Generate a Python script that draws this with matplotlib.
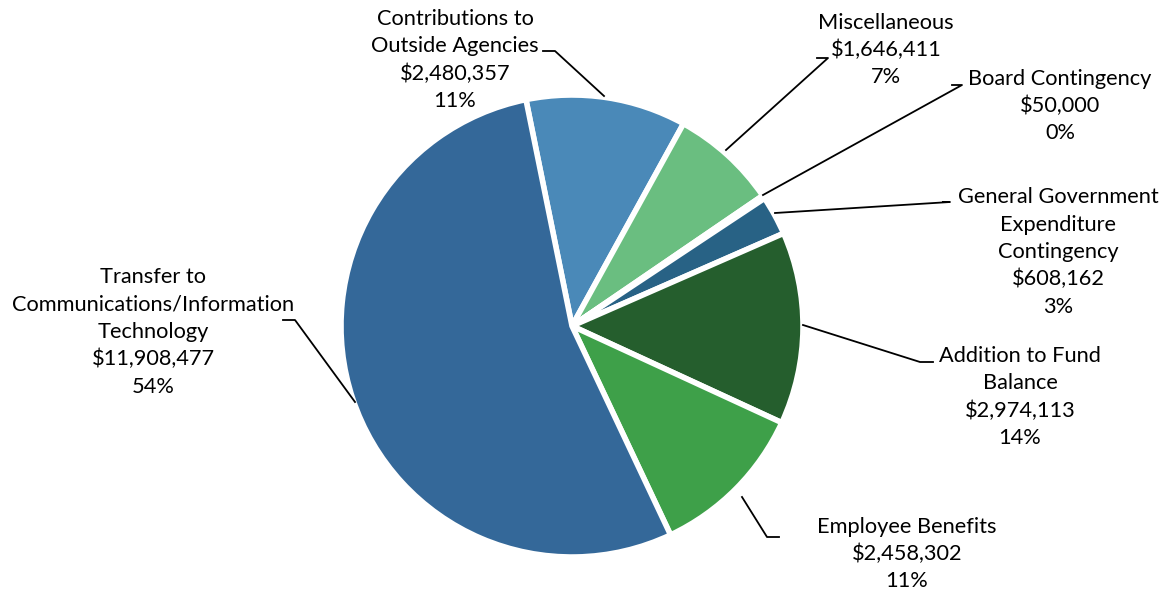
import matplotlib
matplotlib.use('Agg')
from matplotlib import pyplot as plt

# datos (sentido horario desde arriba)
labels = ['Contributions to\nOutside Agencies', 'Miscellaneous', 'Board Contingency',
          'General Government\nExpenditure\nContingency', 'Addition to Fund\nBalance',
          'Employee Benefits', 'Transfer to\nCommunications/Information\nTechnology']
values = [2480357, 1646411, 50000, 608162, 2974113, 2458302, 11908477]
pcts = ['11%', '7%', '0%', '3%', '14%', '11%', '54%']
colors = ['#4A89B8', '#6ABE80', '#1F4F6F', '#286285', '#255E2D', '#3EA049', '#346899']

# posiciones de etiquetas (pixeles), puntos de la linea guia
text_pos = [(455, 60), (886, 50), (1060, 106), (1058, 252), (1020, 397), (907, 554), (153, 332)]
leaders = [
    [(543, 51), (555, 51), (604, 96)],
    [(817, 58), (828, 58), (726, 150)],
    [(952, 85), (962, 85), (763, 195)],
    [(943, 202), (950, 202), (775, 213)],
    [(933, 362), (920, 362), (803, 325)],
    [(779, 537), (767, 537), (742, 497)],
    [(283, 320), (295, 320), (355, 402)],
]

W, H = 1169, 595
fig = plt.figure(figsize=(W / 100, H / 100), dpi=100)
ax = fig.add_axes([0, 0, 1, 1])

ax.pie(values, colors=colors, startangle=101.5, counterclock=False,
       center=(572, H - 326), radius=231,
       wedgeprops=dict(edgecolor='white', linewidth=4))

ax.set_xlim(0, W)
ax.set_ylim(0, H)
ax.set_aspect('equal')
ax.axis('off')

for lab, val, p, (tx, ty), pts in zip(labels, values, pcts, text_pos, leaders):
    txt = lab + '\n${:,}'.format(val) + '\n' + p
    ax.text(tx, H - ty, txt, ha='center', va='center', fontsize=15.7,
            family='Lato', linespacing=1.45, color='black')
    ax.plot([q[0] for q in pts], [H - q[1] for q in pts], color='black', lw=1.3)

fig.savefig('out.png', dpi=100)
